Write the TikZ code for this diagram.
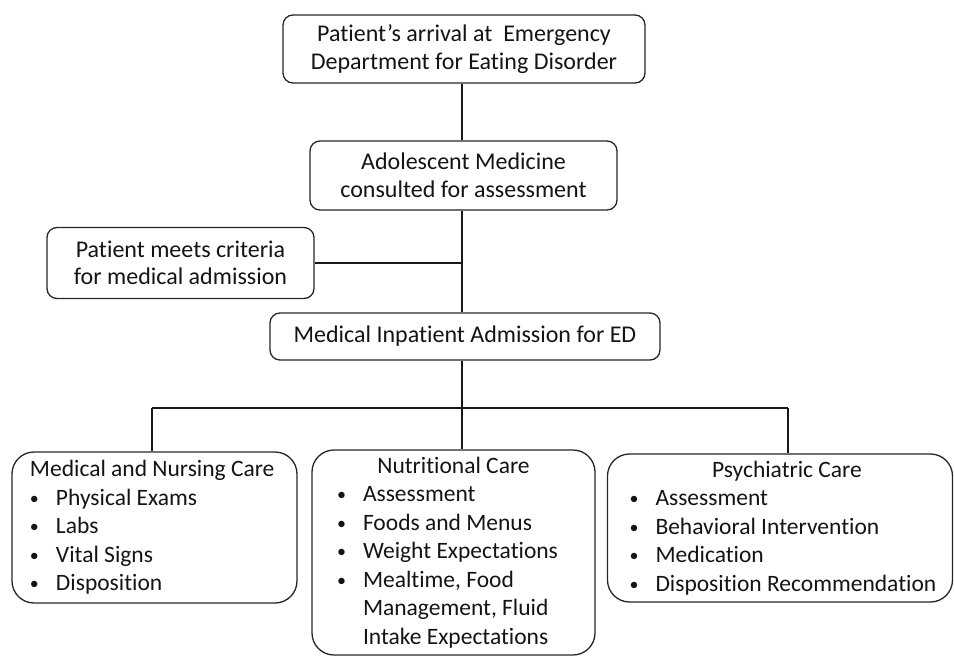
\documentclass[tikz,border=0pt]{standalone}
\usepackage{fontspec}
\setmainfont{Carlito}[Ligatures=CommonOff]
\hfuzz=30pt
\begin{document}
\begin{tikzpicture}[x=1pt,y=-1pt,
  box/.style={draw=black!85, line width=1.3pt, rounded corners=10pt, align=center,
    font=\fontsize{24}{27.5}\selectfont, inner xsep=0pt, inner ysep=0pt, text=black!92},
  bigbox/.style={draw=black!85, line width=1.3pt, rounded corners=22pt, align=flush left,
    font=\fontsize{23.5}{28.5}\selectfont, inner ysep=0pt, text=black!92},
  conn/.style={line width=2pt, black!90}]
\useasboundingbox (0,0) rectangle (954,656);
\newcommand{\bul}{\makebox[26pt][l]{\raisebox{1pt}{\fontsize{18}{18}\selectfont •}}}
\node[box, minimum width=362pt, minimum height=68pt] (top) at (464,49)
  {Patient’s arrival at~ Emergency\\Department for Eating Disorder};
\node[box, minimum width=307pt, minimum height=69pt] (adol) at (463.5,175.5)
  {Adolescent Medicine\\consulted for assessment};
\node[box, minimum width=267pt, minimum height=71pt] (crit) at (180.5,263)
  {Patient meets criteria\\for medical admission};
\node[box, minimum width=390pt, minimum height=47pt] (adm) at (465,336.5)
  {Medical Inpatient Admission for ED};
\node[bigbox, inner xsep=18pt, text width=249pt, minimum height=151pt] (med) at (154.5,527.5)
  {Medical and Nursing Care\\\bul Physical Exams\\\bul Labs\\\bul Vital Signs\\\bul Disposition};
\node[bigbox, inner xsep=25pt, text width=233pt, minimum height=205pt] (nut) at (453.5,552.5)
  {\makebox[233pt]{Nutritional Care}\\\bul Assessment\\\bul Foods and Menus\\\bul Weight Expectations\\\bul Mealtime, Food\\\hspace*{26pt}Management, Fluid\\\hspace*{26pt}Intake Expectations};
\node[bigbox, inner xsep=22pt, text width=301pt, minimum height=148pt] (psy) at (780,528)
  {\makebox[301pt]{\hspace{14pt}Psychiatric Care}\\\bul Assessment\\\bul Behavioral Intervention\\\bul Medication\\\bul\mbox{Disposition Recommendation}};
\coordinate (t) at (462,0);
\coordinate (bl) at (152,408);
\coordinate (bm) at (462,408);
\coordinate (br) at (788,408);
\draw[conn] (top.south -| t) -- (adol.north -| t);
\draw[conn] (adol.south -| t) -- (adm.north -| t);
\draw[conn] (crit.east) -- (crit.east -| t);
\draw[conn] (adm.south -| t) -- (bm);
\draw[conn] (bl) -- (br);
\draw[conn] (bl) -- (med.north -| bl);
\draw[conn] (bm) -- (nut.north -| bm);
\draw[conn] (br) -- (psy.north -| br);
\end{tikzpicture}
\end{document}
